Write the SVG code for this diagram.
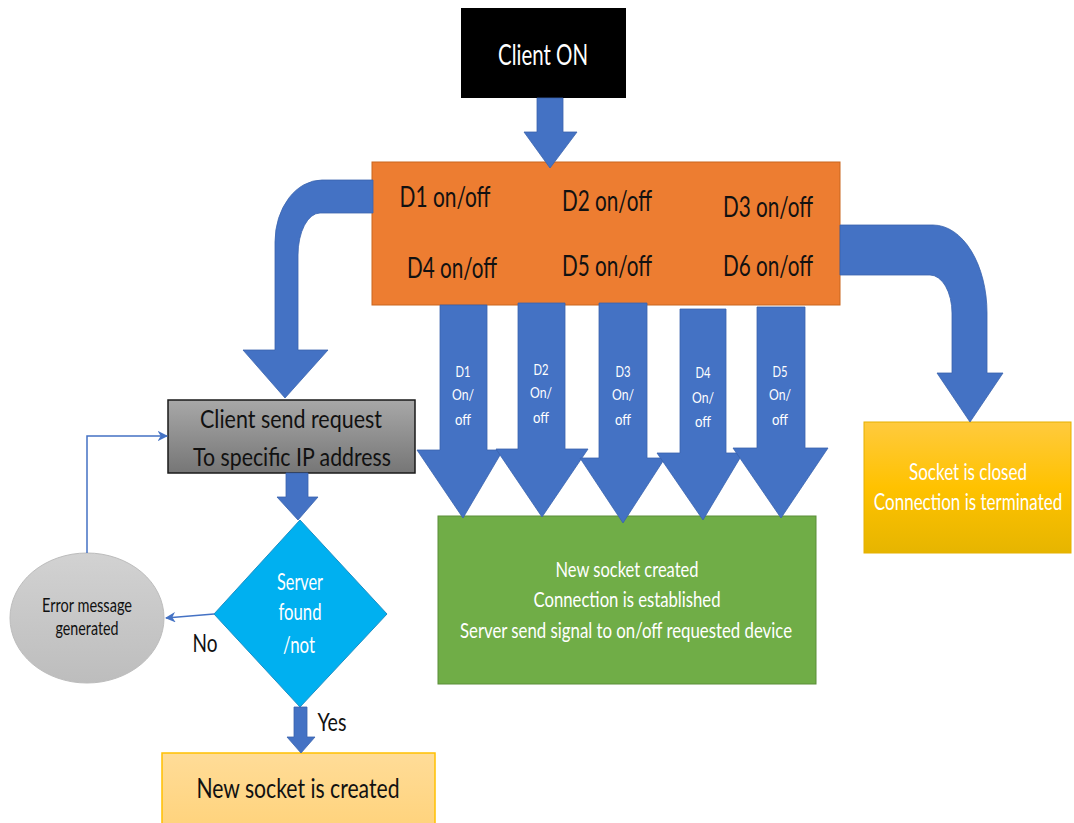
<svg xmlns="http://www.w3.org/2000/svg" width="1074" height="823" viewBox="0 0 1074 823">
  <style>
    text { font-family: Lato, "Liberation Sans", sans-serif; text-anchor: middle; }
    .dark { fill: #111111; }
    .light { fill: #ffffff; }
    .flow { fill: #4472C4; stroke: #3a63ad; stroke-width: 0.8; }
    .thin { fill: none; stroke: #4472C4; stroke-width: 1.5; }
  </style>
  <defs>
    <marker id="tip" viewBox="0 0 10 10" refX="9" refY="5" markerWidth="7" markerHeight="7" orient="auto-start-reverse">
      <path d="M0,0 L10,5 L0,10 L3,5 Z" fill="#4472C4"/>
    </marker>
    <linearGradient id="grayBox" x1="0" y1="0" x2="0" y2="1">
      <stop offset="0" stop-color="#a8a8a8"/>
      <stop offset="1" stop-color="#767676"/>
    </linearGradient>
    <linearGradient id="goldBox" x1="0" y1="0" x2="0" y2="1">
      <stop offset="0" stop-color="#ffca3e"/>
      <stop offset="0.5" stop-color="#ffc200"/>
      <stop offset="1" stop-color="#e6b500"/>
    </linearGradient>
    <linearGradient id="paleBox" x1="0" y1="0" x2="0" y2="1">
      <stop offset="0" stop-color="#ffdc98"/>
      <stop offset="1" stop-color="#ffd37c"/>
    </linearGradient>
    <linearGradient id="oval" x1="0" y1="0" x2="0" y2="1">
      <stop offset="0" stop-color="#d2d2d2"/>
      <stop offset="1" stop-color="#bdbdbd"/>
    </linearGradient>
  </defs>

  <!-- Nodes -->
  <g id="client-on">
    <rect x="461" y="8" width="165" height="90" fill="#000000"/>
    <text x="543" y="65" font-size="28" class="light" textLength="90" lengthAdjust="spacingAndGlyphs">Client ON</text>
  </g>

  <g id="devices">
    <rect x="372" y="162" width="468" height="143" fill="#ED7D31" stroke="#c9661f" stroke-width="1"/>
    <text x="445" y="207" font-size="28" class="dark" textLength="91" lengthAdjust="spacingAndGlyphs">D1 on/off</text>
    <text x="607" y="211" font-size="28" class="dark" textLength="90" lengthAdjust="spacingAndGlyphs">D2 on/off</text>
    <text x="768" y="217" font-size="28" class="dark" textLength="90" lengthAdjust="spacingAndGlyphs">D3 on/off</text>
    <text x="452" y="278" font-size="28" class="dark" textLength="90" lengthAdjust="spacingAndGlyphs">D4 on/off</text>
    <text x="607" y="276" font-size="28" class="dark" textLength="90" lengthAdjust="spacingAndGlyphs">D5 on/off</text>
    <text x="768" y="276" font-size="28" class="dark" textLength="90" lengthAdjust="spacingAndGlyphs">D6 on/off</text>
  </g>

  <g id="send-request">
    <rect x="168" y="400" width="247" height="73" fill="url(#grayBox)" stroke="#1a1a1a" stroke-width="1.5"/>
    <text x="291" y="428" font-size="25" class="dark" textLength="182" lengthAdjust="spacingAndGlyphs">Client send request</text>
    <text x="292" y="466" font-size="25" class="dark" textLength="198" lengthAdjust="spacingAndGlyphs">To specific IP address</text>
  </g>

  <g id="server-found">
    <polygon points="300,520 387,614 300,707 214,614" fill="#00B0F0" stroke="#1f8fc4" stroke-width="1"/>
    <text x="300" y="590" font-size="23" class="light" textLength="46" lengthAdjust="spacingAndGlyphs">Server</text>
    <text x="300" y="620" font-size="23" class="light" textLength="43" lengthAdjust="spacingAndGlyphs">found</text>
    <text x="299" y="653" font-size="23" class="light" textLength="32" lengthAdjust="spacingAndGlyphs">/not</text>
  </g>

  <g id="error-message">
    <ellipse cx="87" cy="618" rx="77" ry="65" fill="url(#oval)" stroke="#bcbcbc" stroke-width="1"/>
    <text x="87" y="612" font-size="19" class="dark" textLength="90" lengthAdjust="spacingAndGlyphs">Error message</text>
    <text x="87" y="635" font-size="19" class="dark" textLength="63" lengthAdjust="spacingAndGlyphs">generated</text>
  </g>

  <g id="socket-created">
    <rect x="162" y="753" width="273" height="75" fill="url(#paleBox)" stroke="#ffc000" stroke-width="1.5"/>
    <text x="298" y="798" font-size="27" class="dark" textLength="203" lengthAdjust="spacingAndGlyphs">New socket is created</text>
  </g>

  <g id="connection-established">
    <rect x="438" y="516" width="378" height="168" fill="#70AD47" stroke="#5a8e38" stroke-width="1"/>
    <text x="627" y="577" font-size="21" class="light" textLength="143" lengthAdjust="spacingAndGlyphs">New socket created</text>
    <text x="627" y="607" font-size="21" class="light" textLength="187" lengthAdjust="spacingAndGlyphs">Connection is established</text>
    <text x="626" y="638" font-size="21" class="light" textLength="332" lengthAdjust="spacingAndGlyphs">Server send signal to on/off requested device</text>
  </g>

  <g id="socket-closed">
    <rect x="864" y="422" width="207" height="131" fill="url(#goldBox)" stroke="#e6b000" stroke-width="1"/>
    <!-- condensed lettering, narrowed horizontally -->
    <g transform="translate(968,0) scale(0.74,1)">
      <text x="0" y="480" font-size="23" class="light">Socket is closed</text>
      <text x="0" y="510" font-size="23" class="light">Connection is terminated</text>
    </g>
  </g>

  <!-- Connectors -->
  <g id="connectors">
    <!-- Client ON to device panel -->
    <polygon class="flow" points="537,98 563,98 563,132 577,132 550,168 524,132 537,132"/>

    <!-- device panel to request (bent arrow, left) -->
    <path class="flow" d="M373,180 L322,180 A47,62 0 0 0 275,242 L275,350 L243,350 L285,398 L328,350 L298,350 L298,255 A22,42 0 0 1 320,213 L373,213 Z"/>

    <!-- device panel to closed socket (bent arrow, right) -->
    <path class="flow" d="M840,225 L933,225 A54,88 0 0 1 987,313 L987,373 L1003,373 L970,422 L937,373 L952,373 L952,313 A22,38 0 0 0 930,275 L840,275 Z"/>

    <!-- per-device arrows into the server box -->
    <polygon class="flow" points="440,305 487,305 487,450 503,450 463,518 417,450 440,450"/>
    <polygon class="flow" points="518,303 565,303 565,449 588,449 542,517 496,449 518,449"/>
    <polygon class="flow" points="599,303 647,303 647,458 665,458 623,523 580,458 599,458"/>
    <polygon class="flow" points="680,309 726,309 726,453 743,453 703,520 657,453 680,453"/>
    <polygon class="flow" points="757,307 805,307 805,448 828,448 781,518 733,448 757,448"/>

    <g font-size="16" class="light">
      <text x="463" y="377" textLength="15" lengthAdjust="spacingAndGlyphs">D1</text>
      <text x="463" y="400" textLength="22" lengthAdjust="spacingAndGlyphs">On/</text>
      <text x="463" y="425" textLength="16" lengthAdjust="spacingAndGlyphs">off</text>

      <text x="541" y="375" textLength="15" lengthAdjust="spacingAndGlyphs">D2</text>
      <text x="541" y="398" textLength="22" lengthAdjust="spacingAndGlyphs">On/</text>
      <text x="541" y="423" textLength="16" lengthAdjust="spacingAndGlyphs">off</text>

      <text x="623" y="377" textLength="15" lengthAdjust="spacingAndGlyphs">D3</text>
      <text x="623" y="400" textLength="22" lengthAdjust="spacingAndGlyphs">On/</text>
      <text x="623" y="425" textLength="16" lengthAdjust="spacingAndGlyphs">off</text>

      <text x="703" y="378" textLength="15" lengthAdjust="spacingAndGlyphs">D4</text>
      <text x="703" y="403" textLength="22" lengthAdjust="spacingAndGlyphs">On/</text>
      <text x="703" y="427" textLength="16" lengthAdjust="spacingAndGlyphs">off</text>

      <text x="780" y="377" textLength="15" lengthAdjust="spacingAndGlyphs">D5</text>
      <text x="780" y="400" textLength="22" lengthAdjust="spacingAndGlyphs">On/</text>
      <text x="780" y="425" textLength="16" lengthAdjust="spacingAndGlyphs">off</text>
    </g>

    <!-- request to decision -->
    <polygon class="flow" points="286,473 308,473 308,497 318,497 298,520 277,497 286,497"/>

    <!-- Yes branch -->
    <polygon class="flow" points="294,707 307,707 307,737 315,737 301,753 287,737 294,737"/>
    <text x="332" y="731" font-size="25" class="dark" textLength="29" lengthAdjust="spacingAndGlyphs">Yes</text>

    <!-- No branch -->
    <path class="thin" d="M214,614 L166,618" marker-end="url(#tip)"/>
    <text x="205" y="652" font-size="25" class="dark" textLength="25" lengthAdjust="spacingAndGlyphs">No</text>

    <!-- retry loop back to request -->
    <path class="thin" d="M87,553 L87,436 L167,436" marker-end="url(#tip)"/>
  </g>
</svg>
